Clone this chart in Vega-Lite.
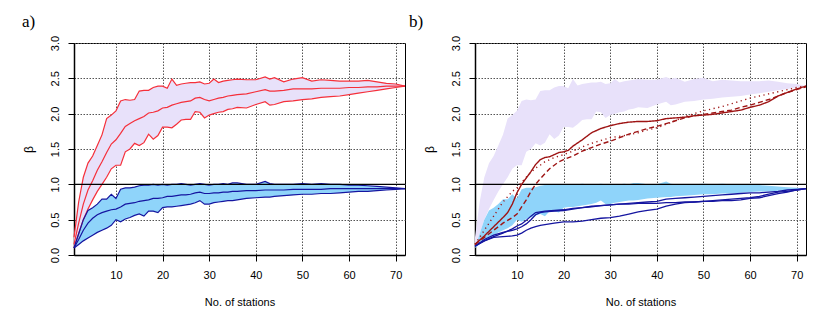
{
  "$schema": "https://vega.github.io/schema/vega-lite/v6.json",
  "padding": {"left": 21, "top": 12, "right": 20, "bottom": 1},
  "spacing": 0,
  "datasets": {
    "bands": [
      {"n":1,"rh":0.25,"rm":0.15,"rl":0.10,"bh":0.10,"bm":0.10,"bl":0.10},
      {"n":2,"rh":0.75,"rm":0.45,"rl":0.30,"bh":0.30,"bm":0.22,"bl":0.15},
      {"n":3,"rh":1.10,"rm":0.72,"rl":0.50,"bh":0.50,"bm":0.35,"bl":0.20},
      {"n":4,"rh":1.30,"rm":0.92,"rl":0.65,"bh":0.63,"bm":0.45,"bl":0.24},
      {"n":5,"rh":1.40,"rm":1.05,"rl":0.78,"bh":0.67,"bm":0.52,"bl":0.28},
      {"n":6,"rh":1.55,"rm":1.20,"rl":0.90,"bh":0.72,"bm":0.57,"bl":0.32},
      {"n":7,"rh":1.70,"rm":1.32,"rl":1.00,"bh":0.79,"bm":0.60,"bl":0.35},
      {"n":8,"rh":1.93,"rm":1.45,"rl":1.10,"bh":0.79,"bm":0.62,"bl":0.38},
      {"n":9,"rh":1.98,"rm":1.57,"rl":1.22,"bh":0.86,"bm":0.64,"bl":0.42},
      {"n":10,"rh":2.04,"rm":1.63,"rl":1.27,"bh":0.80,"bm":0.65,"bl":0.50},
      {"n":11,"rh":2.18,"rm":1.72,"rl":1.27,"bh":0.93,"bm":0.68,"bl":0.47},
      {"n":12,"rh":2.20,"rm":1.82,"rl":1.46,"bh":0.95,"bm":0.72,"bl":0.51},
      {"n":13,"rh":2.19,"rm":1.86,"rl":1.50,"bh":0.95,"bm":0.73,"bl":0.53},
      {"n":14,"rh":2.20,"rm":1.90,"rl":1.58,"bh":0.96,"bm":0.74,"bl":0.56},
      {"n":15,"rh":2.32,"rm":1.93,"rl":1.55,"bh":0.98,"bm":0.76,"bl":0.58},
      {"n":16,"rh":2.33,"rm":1.96,"rl":1.59,"bh":0.99,"bm":0.77,"bl":0.55},
      {"n":17,"rh":2.33,"rm":2.01,"rl":1.71,"bh":0.99,"bm":0.78,"bl":0.62},
      {"n":18,"rh":2.37,"rm":2.02,"rl":1.64,"bh":1.00,"bm":0.80,"bl":0.62},
      {"n":19,"rh":2.39,"rm":2.04,"rl":1.69,"bh":0.99,"bm":0.80,"bl":0.60},
      {"n":20,"rh":2.39,"rm":2.08,"rl":1.81,"bh":1.00,"bm":0.81,"bl":0.67},
      {"n":21,"rh":2.36,"rm":2.09,"rl":1.81,"bh":0.99,"bm":0.83,"bl":0.68},
      {"n":22,"rh":2.49,"rm":2.12,"rl":1.80,"bh":1.00,"bm":0.83,"bl":0.68},
      {"n":23,"rh":2.40,"rm":2.14,"rl":1.85,"bh":1.00,"bm":0.84,"bl":0.69},
      {"n":24,"rh":2.42,"rm":2.16,"rl":1.91,"bh":1.01,"bm":0.85,"bl":0.70},
      {"n":25,"rh":2.43,"rm":2.17,"rl":1.92,"bh":1.00,"bm":0.85,"bl":0.71},
      {"n":26,"rh":2.44,"rm":2.18,"rl":1.92,"bh":0.99,"bm":0.86,"bl":0.72},
      {"n":27,"rh":2.44,"rm":2.22,"rl":2.03,"bh":1.00,"bm":0.88,"bl":0.74},
      {"n":28,"rh":2.45,"rm":2.23,"rl":2.02,"bh":1.01,"bm":0.89,"bl":0.77},
      {"n":29,"rh":2.42,"rm":2.20,"rl":1.94,"bh":1.00,"bm":0.87,"bl":0.72},
      {"n":30,"rh":2.43,"rm":2.18,"rl":1.98,"bh":0.99,"bm":0.87,"bl":0.72},
      {"n":31,"rh":2.49,"rm":2.20,"rl":2.00,"bh":1.00,"bm":0.88,"bl":0.74},
      {"n":32,"rh":2.44,"rm":2.22,"rl":2.02,"bh":1.00,"bm":0.88,"bl":0.75},
      {"n":33,"rh":2.46,"rm":2.23,"rl":2.03,"bh":1.01,"bm":0.89,"bl":0.76},
      {"n":34,"rh":2.47,"rm":2.25,"rl":2.06,"bh":1.00,"bm":0.89,"bl":0.77},
      {"n":35,"rh":2.48,"rm":2.26,"rl":2.07,"bh":1.02,"bm":0.90,"bl":0.77},
      {"n":36,"rh":2.49,"rm":2.27,"rl":2.09,"bh":1.02,"bm":0.90,"bl":0.78},
      {"n":38,"rh":2.48,"rm":2.28,"rl":2.08,"bh":1.00,"bm":0.91,"bl":0.80},
      {"n":40,"rh":2.48,"rm":2.31,"rl":2.13,"bh":1.00,"bm":0.91,"bl":0.81},
      {"n":42,"rh":2.52,"rm":2.34,"rl":2.17,"bh":1.04,"bm":0.92,"bl":0.82},
      {"n":43,"rh":2.49,"rm":2.32,"rl":2.12,"bh":1.01,"bm":0.92,"bl":0.82},
      {"n":44,"rh":2.51,"rm":2.32,"rl":2.13,"bh":1.00,"bm":0.92,"bl":0.83},
      {"n":46,"rh":2.45,"rm":2.33,"rl":2.17,"bh":1.00,"bm":0.92,"bl":0.84},
      {"n":48,"rh":2.49,"rm":2.35,"rl":2.18,"bh":1.00,"bm":0.93,"bl":0.85},
      {"n":50,"rh":2.51,"rm":2.35,"rl":2.20,"bh":1.01,"bm":0.93,"bl":0.86},
      {"n":52,"rh":2.46,"rm":2.35,"rl":2.21,"bh":1.00,"bm":0.93,"bl":0.86},
      {"n":54,"rh":2.48,"rm":2.36,"rl":2.23,"bh":1.01,"bm":0.93,"bl":0.87},
      {"n":56,"rh":2.47,"rm":2.36,"rl":2.24,"bh":1.00,"bm":0.94,"bl":0.87},
      {"n":58,"rh":2.46,"rm":2.36,"rl":2.25,"bh":1.00,"bm":0.94,"bl":0.88},
      {"n":60,"rh":2.46,"rm":2.37,"rl":2.27,"bh":0.99,"bm":0.94,"bl":0.89},
      {"n":62,"rh":2.46,"rm":2.37,"rl":2.29,"bh":0.99,"bm":0.94,"bl":0.90},
      {"n":64,"rh":2.47,"rm":2.38,"rl":2.31,"bh":0.98,"bm":0.94,"bl":0.90},
      {"n":66,"rh":2.45,"rm":2.38,"rl":2.33,"bh":0.97,"bm":0.94,"bl":0.91},
      {"n":68,"rh":2.43,"rm":2.39,"rl":2.35,"bh":0.96,"bm":0.94,"bl":0.92},
      {"n":70,"rh":2.42,"rm":2.39,"rl":2.37,"bh":0.95,"bm":0.94,"bl":0.93},
      {"n":72,"rh":2.39,"rm":2.39,"rl":2.39,"bh":0.94,"bm":0.94,"bl":0.94}
    ],
    "lines": [
      {"g":"red","s":"solid","n":1,"v":0.15},{"g":"red","s":"solid","n":3,"v":0.27},{"g":"red","s":"solid","n":5,"v":0.40},{"g":"red","s":"solid","n":7,"v":0.53},{"g":"red","s":"solid","n":8,"v":0.60},{"g":"red","s":"solid","n":9,"v":0.72},{"g":"red","s":"solid","n":10,"v":0.88},{"g":"red","s":"solid","n":11,"v":1.00},{"g":"red","s":"solid","n":12,"v":1.09},{"g":"red","s":"solid","n":13,"v":1.18},{"g":"red","s":"solid","n":14,"v":1.28},{"g":"red","s":"solid","n":15,"v":1.35},{"g":"red","s":"solid","n":16,"v":1.38},{"g":"red","s":"solid","n":17,"v":1.39},{"g":"red","s":"solid","n":18,"v":1.42},{"g":"red","s":"solid","n":19,"v":1.45},{"g":"red","s":"solid","n":20,"v":1.46},{"g":"red","s":"solid","n":21,"v":1.48},{"g":"red","s":"solid","n":22,"v":1.54},{"g":"red","s":"solid","n":24,"v":1.63},{"g":"red","s":"solid","n":26,"v":1.73},{"g":"red","s":"solid","n":28,"v":1.79},{"g":"red","s":"solid","n":30,"v":1.83},{"g":"red","s":"solid","n":32,"v":1.86},{"g":"red","s":"solid","n":34,"v":1.88},{"g":"red","s":"solid","n":36,"v":1.89},{"g":"red","s":"solid","n":38,"v":1.89},{"g":"red","s":"solid","n":40,"v":1.90},{"g":"red","s":"solid","n":42,"v":1.93},{"g":"red","s":"solid","n":44,"v":1.94},{"g":"red","s":"solid","n":46,"v":1.95},{"g":"red","s":"solid","n":48,"v":1.97},{"g":"red","s":"solid","n":50,"v":1.98},{"g":"red","s":"solid","n":52,"v":1.99},{"g":"red","s":"solid","n":54,"v":2.01},{"g":"red","s":"solid","n":56,"v":2.03},{"g":"red","s":"solid","n":58,"v":2.05},{"g":"red","s":"solid","n":60,"v":2.09},{"g":"red","s":"solid","n":62,"v":2.12},{"g":"red","s":"solid","n":64,"v":2.17},{"g":"red","s":"solid","n":66,"v":2.25},{"g":"red","s":"solid","n":68,"v":2.30},{"g":"red","s":"solid","n":70,"v":2.35},{"g":"red","s":"solid","n":72,"v":2.39},
      {"g":"red","s":"dotted","n":1,"v":0.15},{"g":"red","s":"dotted","n":3,"v":0.35},{"g":"red","s":"dotted","n":5,"v":0.55},{"g":"red","s":"dotted","n":7,"v":0.75},{"g":"red","s":"dotted","n":9,"v":0.90},{"g":"red","s":"dotted","n":10,"v":0.95},{"g":"red","s":"dotted","n":11,"v":1.03},{"g":"red","s":"dotted","n":12,"v":1.10},{"g":"red","s":"dotted","n":13,"v":1.17},{"g":"red","s":"dotted","n":14,"v":1.23},{"g":"red","s":"dotted","n":15,"v":1.27},{"g":"red","s":"dotted","n":16,"v":1.32},{"g":"red","s":"dotted","n":18,"v":1.38},{"g":"red","s":"dotted","n":20,"v":1.42},{"g":"red","s":"dotted","n":22,"v":1.47},{"g":"red","s":"dotted","n":24,"v":1.53},{"g":"red","s":"dotted","n":26,"v":1.58},{"g":"red","s":"dotted","n":28,"v":1.62},{"g":"red","s":"dotted","n":30,"v":1.66},{"g":"red","s":"dotted","n":32,"v":1.68},{"g":"red","s":"dotted","n":34,"v":1.70},{"g":"red","s":"dotted","n":36,"v":1.73},{"g":"red","s":"dotted","n":38,"v":1.77},{"g":"red","s":"dotted","n":40,"v":1.80},{"g":"red","s":"dotted","n":42,"v":1.85},{"g":"red","s":"dotted","n":44,"v":1.90},{"g":"red","s":"dotted","n":46,"v":1.96},{"g":"red","s":"dotted","n":48,"v":2.00},{"g":"red","s":"dotted","n":50,"v":2.04},{"g":"red","s":"dotted","n":52,"v":2.07},{"g":"red","s":"dotted","n":54,"v":2.10},{"g":"red","s":"dotted","n":56,"v":2.14},{"g":"red","s":"dotted","n":58,"v":2.18},{"g":"red","s":"dotted","n":60,"v":2.22},{"g":"red","s":"dotted","n":62,"v":2.25},{"g":"red","s":"dotted","n":64,"v":2.28},{"g":"red","s":"dotted","n":66,"v":2.31},{"g":"red","s":"dotted","n":68,"v":2.34},{"g":"red","s":"dotted","n":70,"v":2.37},{"g":"red","s":"dotted","n":72,"v":2.39},
      {"g":"red","s":"dashed","n":1,"v":0.15},{"g":"red","s":"dashed","n":3,"v":0.25},{"g":"red","s":"dashed","n":5,"v":0.35},{"g":"red","s":"dashed","n":7,"v":0.45},{"g":"red","s":"dashed","n":8,"v":0.49},{"g":"red","s":"dashed","n":9,"v":0.53},{"g":"red","s":"dashed","n":10,"v":0.58},{"g":"red","s":"dashed","n":11,"v":0.68},{"g":"red","s":"dashed","n":12,"v":0.78},{"g":"red","s":"dashed","n":13,"v":0.90},{"g":"red","s":"dashed","n":14,"v":1.00},{"g":"red","s":"dashed","n":15,"v":1.08},{"g":"red","s":"dashed","n":16,"v":1.15},{"g":"red","s":"dashed","n":17,"v":1.22},{"g":"red","s":"dashed","n":18,"v":1.27},{"g":"red","s":"dashed","n":19,"v":1.32},{"g":"red","s":"dashed","n":20,"v":1.35},{"g":"red","s":"dashed","n":22,"v":1.40},{"g":"red","s":"dashed","n":24,"v":1.47},{"g":"red","s":"dashed","n":26,"v":1.52},{"g":"red","s":"dashed","n":28,"v":1.57},{"g":"red","s":"dashed","n":30,"v":1.61},{"g":"red","s":"dashed","n":32,"v":1.66},{"g":"red","s":"dashed","n":34,"v":1.71},{"g":"red","s":"dashed","n":36,"v":1.75},{"g":"red","s":"dashed","n":38,"v":1.79},{"g":"red","s":"dashed","n":40,"v":1.82},{"g":"red","s":"dashed","n":42,"v":1.86},{"g":"red","s":"dashed","n":44,"v":1.90},{"g":"red","s":"dashed","n":46,"v":1.94},{"g":"red","s":"dashed","n":48,"v":1.97},{"g":"red","s":"dashed","n":50,"v":1.99},{"g":"red","s":"dashed","n":52,"v":2.01},{"g":"red","s":"dashed","n":54,"v":2.03},{"g":"red","s":"dashed","n":56,"v":2.05},{"g":"red","s":"dashed","n":58,"v":2.09},{"g":"red","s":"dashed","n":60,"v":2.12},{"g":"red","s":"dashed","n":62,"v":2.16},{"g":"red","s":"dashed","n":64,"v":2.20},{"g":"red","s":"dashed","n":66,"v":2.25},{"g":"red","s":"dashed","n":68,"v":2.30},{"g":"red","s":"dashed","n":70,"v":2.34},{"g":"red","s":"dashed","n":72,"v":2.38},
      {"g":"blue","s":"A","n":1,"v":0.13},{"g":"blue","s":"A","n":3,"v":0.20},{"g":"blue","s":"A","n":5,"v":0.26},{"g":"blue","s":"A","n":7,"v":0.31},{"g":"blue","s":"A","n":9,"v":0.37},{"g":"blue","s":"A","n":10,"v":0.41},{"g":"blue","s":"A","n":11,"v":0.44},{"g":"blue","s":"A","n":12,"v":0.49},{"g":"blue","s":"A","n":13,"v":0.55},{"g":"blue","s":"A","n":14,"v":0.60},{"g":"blue","s":"A","n":15,"v":0.61},{"g":"blue","s":"A","n":16,"v":0.62},{"g":"blue","s":"A","n":18,"v":0.63},{"g":"blue","s":"A","n":20,"v":0.64},{"g":"blue","s":"A","n":22,"v":0.66},{"g":"blue","s":"A","n":24,"v":0.67},{"g":"blue","s":"A","n":26,"v":0.69},{"g":"blue","s":"A","n":28,"v":0.70},{"g":"blue","s":"A","n":30,"v":0.71},{"g":"blue","s":"A","n":32,"v":0.72},{"g":"blue","s":"A","n":34,"v":0.73},{"g":"blue","s":"A","n":36,"v":0.74},{"g":"blue","s":"A","n":38,"v":0.75},{"g":"blue","s":"A","n":40,"v":0.76},{"g":"blue","s":"A","n":42,"v":0.79},{"g":"blue","s":"A","n":44,"v":0.80},{"g":"blue","s":"A","n":46,"v":0.81},{"g":"blue","s":"A","n":48,"v":0.82},{"g":"blue","s":"A","n":50,"v":0.83},{"g":"blue","s":"A","n":52,"v":0.84},{"g":"blue","s":"A","n":54,"v":0.85},{"g":"blue","s":"A","n":56,"v":0.86},{"g":"blue","s":"A","n":58,"v":0.87},{"g":"blue","s":"A","n":60,"v":0.88},{"g":"blue","s":"A","n":62,"v":0.88},{"g":"blue","s":"A","n":64,"v":0.89},{"g":"blue","s":"A","n":66,"v":0.90},{"g":"blue","s":"A","n":68,"v":0.92},{"g":"blue","s":"A","n":70,"v":0.93},{"g":"blue","s":"A","n":72,"v":0.94},
      {"g":"blue","s":"B","n":1,"v":0.12},{"g":"blue","s":"B","n":3,"v":0.22},{"g":"blue","s":"B","n":5,"v":0.28},{"g":"blue","s":"B","n":7,"v":0.32},{"g":"blue","s":"B","n":9,"v":0.35},{"g":"blue","s":"B","n":10,"v":0.37},{"g":"blue","s":"B","n":11,"v":0.40},{"g":"blue","s":"B","n":12,"v":0.44},{"g":"blue","s":"B","n":13,"v":0.50},{"g":"blue","s":"B","n":14,"v":0.57},{"g":"blue","s":"B","n":15,"v":0.60},{"g":"blue","s":"B","n":16,"v":0.61},{"g":"blue","s":"B","n":18,"v":0.62},{"g":"blue","s":"B","n":20,"v":0.63},{"g":"blue","s":"B","n":22,"v":0.65},{"g":"blue","s":"B","n":24,"v":0.67},{"g":"blue","s":"B","n":26,"v":0.68},{"g":"blue","s":"B","n":28,"v":0.70},{"g":"blue","s":"B","n":30,"v":0.71},{"g":"blue","s":"B","n":32,"v":0.72},{"g":"blue","s":"B","n":34,"v":0.72},{"g":"blue","s":"B","n":36,"v":0.73},{"g":"blue","s":"B","n":38,"v":0.73},{"g":"blue","s":"B","n":40,"v":0.73},{"g":"blue","s":"B","n":42,"v":0.74},{"g":"blue","s":"B","n":44,"v":0.74},{"g":"blue","s":"B","n":46,"v":0.75},{"g":"blue","s":"B","n":48,"v":0.75},{"g":"blue","s":"B","n":50,"v":0.76},{"g":"blue","s":"B","n":52,"v":0.76},{"g":"blue","s":"B","n":54,"v":0.77},{"g":"blue","s":"B","n":56,"v":0.77},{"g":"blue","s":"B","n":58,"v":0.78},{"g":"blue","s":"B","n":60,"v":0.80},{"g":"blue","s":"B","n":62,"v":0.81},{"g":"blue","s":"B","n":64,"v":0.84},{"g":"blue","s":"B","n":66,"v":0.87},{"g":"blue","s":"B","n":68,"v":0.89},{"g":"blue","s":"B","n":70,"v":0.92},{"g":"blue","s":"B","n":72,"v":0.94},
      {"g":"blue","s":"C","n":1,"v":0.13},{"g":"blue","s":"C","n":3,"v":0.20},{"g":"blue","s":"C","n":5,"v":0.25},{"g":"blue","s":"C","n":7,"v":0.26},{"g":"blue","s":"C","n":9,"v":0.27},{"g":"blue","s":"C","n":10,"v":0.28},{"g":"blue","s":"C","n":11,"v":0.31},{"g":"blue","s":"C","n":12,"v":0.35},{"g":"blue","s":"C","n":13,"v":0.38},{"g":"blue","s":"C","n":14,"v":0.40},{"g":"blue","s":"C","n":15,"v":0.42},{"g":"blue","s":"C","n":16,"v":0.43},{"g":"blue","s":"C","n":18,"v":0.45},{"g":"blue","s":"C","n":20,"v":0.47},{"g":"blue","s":"C","n":22,"v":0.47},{"g":"blue","s":"C","n":24,"v":0.48},{"g":"blue","s":"C","n":26,"v":0.50},{"g":"blue","s":"C","n":28,"v":0.52},{"g":"blue","s":"C","n":30,"v":0.53},{"g":"blue","s":"C","n":32,"v":0.55},{"g":"blue","s":"C","n":34,"v":0.58},{"g":"blue","s":"C","n":36,"v":0.61},{"g":"blue","s":"C","n":38,"v":0.63},{"g":"blue","s":"C","n":40,"v":0.65},{"g":"blue","s":"C","n":42,"v":0.69},{"g":"blue","s":"C","n":44,"v":0.72},{"g":"blue","s":"C","n":46,"v":0.74},{"g":"blue","s":"C","n":48,"v":0.75},{"g":"blue","s":"C","n":50,"v":0.76},{"g":"blue","s":"C","n":52,"v":0.77},{"g":"blue","s":"C","n":54,"v":0.78},{"g":"blue","s":"C","n":56,"v":0.79},{"g":"blue","s":"C","n":58,"v":0.80},{"g":"blue","s":"C","n":60,"v":0.81},{"g":"blue","s":"C","n":62,"v":0.83},{"g":"blue","s":"C","n":64,"v":0.86},{"g":"blue","s":"C","n":66,"v":0.89},{"g":"blue","s":"C","n":68,"v":0.90},{"g":"blue","s":"C","n":70,"v":0.92},{"g":"blue","s":"C","n":72,"v":0.94}
    ]
  },
  "hconcat": [
    {
      "width": 331, "height": 212,
      "title": {"text": "a)"},
      "layer": [
        {"data": {"name": "bands"}, "mark": {"type": "area", "color": "#E8E1FA", "opacity": 1},
         "encoding": {
           "x": {"field": "n", "type": "quantitative", "title": "No. of stations", "scale": {"domain": [1, 72], "nice": false, "zero": false}, "axis": {"values": [10,20,30,40,50,60,70]}},
           "y": {"field": "rl", "type": "quantitative", "title": "β", "scale": {"domain": [0, 3], "nice": false}, "axis": {"values": [0,0.5,1,1.5,2,2.5,3], "format": ".1f", "labelOverlap": false}},
           "y2": {"field": "rh"}}},
        {"data": {"name": "bands"}, "mark": {"type": "area", "color": "#8FD4FA", "opacity": 1},
         "encoding": {
           "x": {"field": "n", "type": "quantitative", "title": "No. of stations", "axis": {"values": [10,20,30,40,50,60,70]}},
           "y": {"field": "bl", "type": "quantitative", "title": "β", "axis": {"values": [0,0.5,1,1.5,2,2.5,3], "format": ".1f", "labelOverlap": false}},
           "y2": {"field": "bh"}}},
        {"data": {"name": "bands"}, "transform": [{"fold": ["rh", "rm", "rl"], "as": ["k", "v"]}],
         "mark": {"type": "line", "color": "#F52F3A", "strokeWidth": 1.2},
         "encoding": {
           "x": {"field": "n", "type": "quantitative", "title": "No. of stations", "axis": {"values": [10,20,30,40,50,60,70]}},
           "y": {"field": "v", "type": "quantitative", "title": "β", "axis": {"values": [0,0.5,1,1.5,2,2.5,3], "format": ".1f", "labelOverlap": false}},
           "detail": {"field": "k"}}},
        {"data": {"name": "bands"}, "transform": [{"fold": ["bh", "bm", "bl"], "as": ["k", "v"]}],
         "mark": {"type": "line", "color": "#1515A0", "strokeWidth": 1.2},
         "encoding": {
           "x": {"field": "n", "type": "quantitative", "title": "No. of stations", "axis": {"values": [10,20,30,40,50,60,70]}},
           "y": {"field": "v", "type": "quantitative", "title": "β", "axis": {"values": [0,0.5,1,1.5,2,2.5,3], "format": ".1f", "labelOverlap": false}},
           "detail": {"field": "k"}}},
        {"data": {"values": [{"v": 1}]}, "mark": {"type": "rule", "color": "black", "strokeWidth": 1.2},
         "encoding": {"y": {"field": "v", "type": "quantitative", "title": "β", "axis": {"values": [0,0.5,1,1.5,2,2.5,3], "format": ".1f", "labelOverlap": false}}}}
      ]
    },
    {
      "width": 331, "height": 212,
      "title": {"text": "b)", "dx": -14},
      "layer": [
        {"data": {"name": "bands"}, "mark": {"type": "area", "color": "#E8E1FA", "opacity": 1},
         "encoding": {
           "x": {"field": "n", "type": "quantitative", "title": "No. of stations", "scale": {"domain": [1, 72], "nice": false, "zero": false}, "axis": {"values": [10,20,30,40,50,60,70]}},
           "y": {"field": "rl", "type": "quantitative", "title": "β", "scale": {"domain": [0, 3], "nice": false}, "axis": {"values": [0,0.5,1,1.5,2,2.5,3], "format": ".1f", "labelOverlap": false}},
           "y2": {"field": "rh"}}},
        {"data": {"name": "bands"}, "mark": {"type": "area", "color": "#8FD4FA", "opacity": 1},
         "encoding": {
           "x": {"field": "n", "type": "quantitative", "title": "No. of stations", "axis": {"values": [10,20,30,40,50,60,70]}},
           "y": {"field": "bl", "type": "quantitative", "title": "β", "axis": {"values": [0,0.5,1,1.5,2,2.5,3], "format": ".1f", "labelOverlap": false}},
           "y2": {"field": "bh"}}},
        {"data": {"values": [{"v": 1}]}, "mark": {"type": "rule", "color": "black", "strokeWidth": 1.2},
         "encoding": {"y": {"field": "v", "type": "quantitative", "title": "β", "axis": {"values": [0,0.5,1,1.5,2,2.5,3], "format": ".1f", "labelOverlap": false}}}},
        {"data": {"name": "lines"}, "transform": [{"filter": {"field": "g", "equal": "blue"}}],
         "mark": {"type": "line", "color": "#1515A0", "strokeWidth": 1.3},
         "encoding": {
           "x": {"field": "n", "type": "quantitative", "title": "No. of stations", "axis": {"values": [10,20,30,40,50,60,70]}},
           "y": {"field": "v", "type": "quantitative", "title": "β", "axis": {"values": [0,0.5,1,1.5,2,2.5,3], "format": ".1f", "labelOverlap": false}},
           "detail": {"field": "s"}}},
        {"data": {"name": "lines"}, "transform": [{"filter": {"field": "g", "equal": "red"}}],
         "mark": {"type": "line", "color": "#9E1414", "strokeWidth": 1.4},
         "encoding": {
           "x": {"field": "n", "type": "quantitative", "title": "No. of stations", "axis": {"values": [10,20,30,40,50,60,70]}},
           "y": {"field": "v", "type": "quantitative", "title": "β", "axis": {"values": [0,0.5,1,1.5,2,2.5,3], "format": ".1f", "labelOverlap": false}},
           "strokeDash": {"field": "s", "type": "nominal", "scale": {"domain": ["solid", "dotted", "dashed"], "range": [[1, 0], [1.2, 3.5], [5, 3]]}, "legend": null}}}
      ]
    }
  ],
  "config": {
    "view": {"stroke": "black", "strokeWidth": 1},
    "title": {"font": "Liberation Serif", "fontSize": 17, "fontWeight": "normal", "anchor": "start", "frame": "bounds", "offset": 4, "color": "black"},
    "axis": {
      "domainColor": "black", "domainWidth": 1.5, "tickColor": "black", "tickSize": 6, "tickWidth": 1,
      "labelColor": "black", "titleColor": "black", "labelFont": "Liberation Sans", "titleFont": "Liberation Sans",
      "labelFontSize": 11, "titleFontSize": 11, "titleFontWeight": "normal",
      "grid": true, "gridColor": "#555555", "gridDash": [1.5, 1.5], "gridWidth": 1, "gridOpacity": 1, "zindex": 1
    },
    "axisX": {"labelPadding": 8, "titlePadding": 16},
    "axisY": {"labelAngle": -90, "labelAlign": "center", "labelBaseline": "middle", "labelPadding": 13, "titlePadding": 14, "titleFontSize": 12}
  }
}
